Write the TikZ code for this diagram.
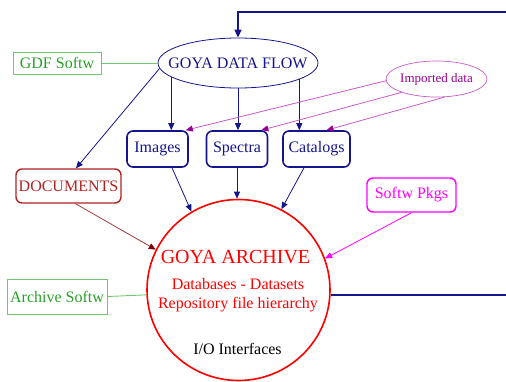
\documentclass[tikz,border=0pt]{standalone}
\usepackage{fontspec}
\setmainfont{Liberation Serif}
\usetikzlibrary{shapes.geometric,arrows.meta}
\definecolor{navyc}{RGB}{20,20,140}
\definecolor{greenc}{RGB}{40,160,40}
\definecolor{greenl}{RGB}{110,200,110}
\definecolor{docc}{RGB}{178,34,34}
\definecolor{docl}{RGB}{160,60,60}
\definecolor{docd}{RGB}{128,0,0}
\definecolor{magc}{RGB}{255,0,255}
\definecolor{purc}{RGB}{150,0,150}
\definecolor{purl}{RGB}{200,90,200}
\definecolor{redc}{RGB}{255,0,0}
\newcommand{\fsz}[1]{\fontsize{#1}{#1}\selectfont}
\tikzset{
  navybox/.style={draw=navyc, line width=1.6pt, rounded corners=6pt, text=navyc, font=\fsz{16}, inner sep=0pt, minimum height=36pt},
  greenbox/.style={draw=greenl, line width=0.9pt, text=greenc, font=\fsz{16}, inner sep=0pt},
  navyarr/.style={draw=navyc, line width=0.8pt, -{Triangle[length=7pt,width=6pt]}},
  purarr/.style={draw=purl, line width=0.8pt, -{Triangle[length=7pt,width=6pt,color=purc]}},
  plainline/.style={line width=0.9pt},
}
\begin{document}
\begin{tikzpicture}[x=1pt,y=-1pt]
\useasboundingbox (0,0) rectangle (506,381);
% nodes
\node[ellipse, draw=navyc, line width=0.8pt, text=navyc, font=\fsz{16}, inner sep=0pt, minimum width=160pt, minimum height=50pt] (flow) at (238,63) {\makebox[0pt]{GOYA DATA FLOW}};
\node[greenbox, minimum width=88pt, minimum height=22pt] (gdf) at (57,63) {GDF Softw};
\node[ellipse, draw=purl, line width=0.7pt, text=purc, font=\fsz{13}, inner sep=0pt, minimum width=101pt, minimum height=36pt] (imported) at (436.5,79) {\makebox[0pt]{Imported data}};
\node[navybox, minimum width=61pt] (images) at (157.5,149) {Images};
\node[navybox, minimum width=61pt] (spectra) at (237,149) {Spectra};
\node[navybox, minimum width=67pt] (catalogs) at (316.5,149) {Catalogs};
\node[draw=docc, line width=1.4pt, rounded corners=6pt, text=docc, font=\fsz{16}, inner sep=0pt, minimum width=105pt, minimum height=34pt] (documents) at (68.5,186) {DOCUMENTS};
\node[draw=magc, line width=1.4pt, rounded corners=6pt, text=magc, font=\fsz{16}, inner sep=0pt, minimum width=89pt, minimum height=34pt] (softw) at (411.5,195) {Softw Pkgs};
\node[greenbox, minimum width=100pt, minimum height=35pt] (archsoftw) at (57,296.5) {Archive Softw};
\node[ellipse, draw=redc, line width=1.6pt, inner sep=0pt, minimum width=183pt, minimum height=181pt] (archive) at (238.5,290) {};
% archive texts
\node[anchor=base, text=redc, font=\fsz{20}, inner sep=0pt] (t1) at (235.5,263) {GOYA ARCHIVE};
\node[anchor=base, text=redc, font=\fsz{16}, inner sep=0pt] (t2) at (238,289) {Databases - Datasets};
\node[anchor=base, text=redc, font=\fsz{16}, inner sep=0pt] (t3) at (238,308) {Repository file hierarchy};
\node[anchor=base, text=black, font=\fsz{16}, inner sep=0pt] (t4) at (237.5,354) {I/O Interfaces};
\coordinate (ret) at (516,12);
% connectors
\draw[greenl, plainline] (gdf.east) -- (flow.west);
\draw[greenl, plainline] (archsoftw.east) -- (archive.183);
\draw[navyarr] (flow.192) -- (flow.192 |- images.north);
\draw[navyarr] (flow.south) -- (flow.south |- spectra.north);
\draw[navyarr] (flow.345) -- (flow.345 |- catalogs.north);
\draw[navyarr] (flow.184) -- ([xshift=7.5pt]documents.north);
\draw[purarr] (imported.182) -- ([xshift=-3pt]images.north east);
\draw[purarr] (imported.201) -- ([xshift=-7pt]spectra.north east);
\draw[purarr] (imported.294) -- ([xshift=10pt]catalogs.north);
\draw[navyarr] ([xshift=14.5pt]images.south) -- (archive.121);
\draw[navyarr] (spectra.south) -- (spectra.south |- archive.north);
\draw[navyarr] ([xshift=-12.5pt]catalogs.south) -- (archive.62);
\draw[draw=docl, line width=0.8pt, -{Triangle[length=7pt,width=6pt,color=docd]}] ([xshift=7pt]documents.south) -- (archive.154);
\draw[draw=magc, line width=0.8pt, -{Triangle[length=7pt,width=6pt]}] (softw.south) -- (archive.20);
\draw[draw=navyc, line width=1.6pt, -{Triangle[length=8pt,width=7pt]}] (archive.357) -| (ret) -- (ret -| flow.north) -- (flow.north);
\end{tikzpicture}
\end{document}
